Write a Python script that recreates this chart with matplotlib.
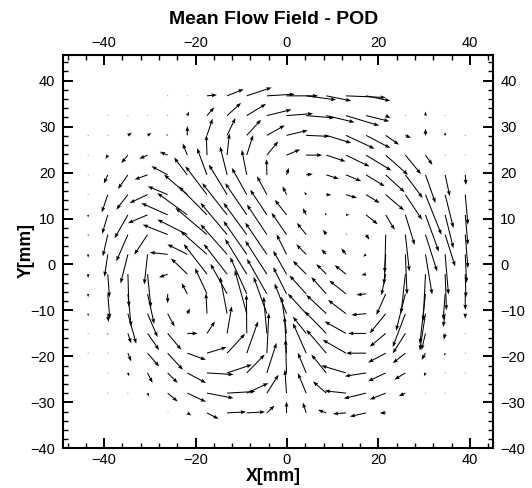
import numpy as np
import matplotlib
matplotlib.use("Agg")
import matplotlib.pyplot as plt
from matplotlib.ticker import MultipleLocator

plt.rcParams['font.family'] = ['Liberation Sans', 'DejaVu Sans']

n = np.nan

# PIV grid (mm)
x_mm = [-43.5, -39.2, -34.8, -30.5, -26.1, -21.8, -17.5, -13.1, -8.8, -4.4,
        -0.1, 4.2, 8.6, 12.9, 17.3, 21.6, 25.9, 30.3, 34.6, 39.0]
y_mm = [36.7, 32.4, 28.1, 23.8, 19.5, 15.2, 10.8, 6.5, 2.2, -2.1,
        -6.4, -10.7, -15.0, -19.3, -23.6, -28.0, -32.3]

# mean velocity components, one row per y_mm value (top to bottom)
u_rows = [
    [n, n, n, n, 0, 0, 3, 5, 7.5, 8.4, 9.5, 9, 7.5, 12, 7.3, n, n, n, n, n],
    [n, 0, 0, 0, 0, 0.5, 2.2, 4.2, 5.8, 7.4, 8, 8.5, 8.5, 10, 7, 1.4, 0, 0, 0, n],
    [0, 0, 1.2, 1.2, -0.5, 0, 1.7, 2.5, 4.3, 5.4, 6.4, 7, 7.5, 8.6, 7.3, 4, 1.7, 0, 0, 0],
    [0, -0.7, -2, -2.5, -2.4, -1.4, -0.2, 0.7, 1.9, 3.4, 4.1, 4.8, 5.8, 7.1, 7.6, 6.7, 4.7, 2.1, 0, 0],
    [0, -1.2, -3, -3.9, -4.9, -4, -3, -2.1, -1.5, -0.1, 0.7, 2, 3.8, 4.6, 5.6, 5.7, 5.2, 3, 1.4, 0.2],
    [0, -1.8, -3.5, -5.4, -6, -7, -6.5, -5.5, -4.5, -3, -1.2, -0.6, 1.5, 3.3, 4.1, 5.5, 5, 4.8, 2.5, 0.8],
    [0, -1.7, -4, -5.9, -7.9, -9, -8.5, -7.5, -6.5, -5, -3.5, -1, -0.5, 1, 3.5, 2.7, 2.8, 4, 2.5, 0.8],
    [0, -1.5, -3.5, -4, -7.5, -9, -9.5, -8, -7, -6, -4.5, -2.8, -1, 0.3, 1, -0.3, 1.2, 3.5, 3, 0.8],
    [0, -1, -2.2, -1, -5.4, -6, -8, -8, -7, -6.5, -3, -3, -1.5, -1.4, -0.9, -0.5, 0.5, 2, 1, 0.4],
    [0, 0.5, 0.3, 1, -2.6, -4.9, -7, -7, -6.5, -6.5, -4, -4, -3, -3.4, -1.4, -1.3, -1.3, -0.7, 0.4, 0.2],
    [0, 0.6, 1, 2, 0, -1.7, -3.6, -5, -5, -6, -4, -5, -4.5, -5, -2.9, -2.8, -2.8, -1.7, -0.6, 0],
    [0, 0.2, 2.5, 3, 2.1, 0.8, -0.3, -2.1, -3.6, -4, -3.6, -5.5, -6, -5.4, -4.4, -4.8, -3.8, -1.7, -0.6, 0],
    [0, 0, 1, 3.5, 4.1, 3.1, 2.4, 1.4, -0.1, -1, -1.5, -4, -6.5, -6.4, -5.4, -4.8, -3.8, -1.2, -0.4, 0],
    [0, 0, 1, 3.5, 4.6, 5.6, 5.9, 5.4, 3.4, 0.6, -0.6, -4, -6, -7, -6, -5.3, -3.8, -1.2, -0.2, 0],
    [n, 0, 0.4, 1.5, 3, 5.6, 8, 7.5, 5.4, 2.9, -0.3, -2.5, -4.5, -7.4, -6.4, -5.3, -3.3, -0.5, 0, 0],
    [n, 0, 0, 0.5, 3, 5.6, 8, 8.5, 6.5, 3.5, -0.5, -2.5, -4, -6.4, -6.7, -4.8, -2, 0, 0, n],
    [n, n, n, n, 0.3, 1.2, 3.5, 5.7, 5.5, 2.3, 0, -1, -2.5, -3.9, -4.9, -1.8, n, n, n, n],
]
v_rows = [
    [n, n, n, n, 0, 0, 0.3, 2, 2.5, 0.5, 0, -1.2, -1.5, -0.5, -1.5, n, n, n, n, n],
    [n, 0, 0, 0, 0, 1.2, 2.5, 3.8, 3.5, 1.8, 0.6, -0.7, -2, -3, -1.7, -0.8, 0, 1.2, 0, n],
    [0, 0, 0.8, 0.7, 0.3, 2.8, 5, 5.2, 4.7, 3, 1.5, -0.3, -2.3, -4, -3.8, -2.8, -0.8, 2, 1, 0],
    [0, -1.2, -2.4, -1.1, 1, 3.5, 6, 6.5, 6, 4.1, 1.7, 0, -1.9, -3.4, -4.6, -5.9, -5.7, -2.9, 0, 0],
    [0, -2.6, -4.2, -1.4, 2.6, 5.2, 8, 8.5, 7.5, 4.7, 2.1, 0.3, -1.2, -1.9, -3.4, -5.2, -6.9, -8.4, -6.4, -3],
    [0, -5.3, -4.5, -2.5, 2.5, 6, 8.5, 9, 8, 5.5, 2.5, 0.8, -0.1, -1, -2.5, -4.7, -7.5, -12, -10, -9],
    [-0.8, -5.7, -7, -2.5, 3.5, 6.5, 8.5, 9.5, 9.5, 7.5, 4.5, 2, 0.6, 0, -2.8, -4.5, -9, -11, -10, -9],
    [-0.5, -6.5, -8, -6, 3, 4.5, 8, 9.5, 9.5, 9, 6.5, 3.5, 1.5, 0.3, -1.5, -11.5, -11, -11, -9.5, -10],
    [-1, -6.7, -8.7, -9, 0.6, 3, 7, 9, 10, 9.5, 6, 3, 1.5, 1.8, -0.7, -9, -12, -12, -12, -8.5],
    [-1.2, -7, -9.8, -10, -1, 4.7, 9, 9, 10.5, 10, 7, 4, 3, 2.7, -0.3, -6.3, -11.8, -14, -10.8, -7],
    [-1, -7.5, -9.8, -9, -2.8, 3.2, 7.7, 9, 11, 10.5, 8, 5.5, 5, 4, -0.3, -6.3, -11, -15, -7.8, -4.8],
    [-0.8, -2.5, -9, -7, -3.9, 1.6, 6.1, 11, 13, 11, 9, 6, 5.6, 4.1, -0.4, -5.9, -10, -11, -4, -1.5],
    [0, -0.5, -3, -5, -4.9, 0, 3.6, 8.1, 11.6, 11, 11, 5, 6.6, 3.6, 0, -4, -6, -5, -1.9, 0],
    [0, 0, -2.5, -4, -5, -2, 1.8, 5.8, 9.5, 12, 11, 9, 7, 4, 0, -2.8, -3, -2, -0.8, 0],
    [n, 0, -1, -3, -3, -3, -0.5, 2.5, 5.5, 9, 10, 6, 5.5, 2.2, -1, -2.5, -2, -1, 0, 0],
    [n, 0, 0, -1, -2.5, -2.6, -1.5, 0.5, 3, 5.5, 7, 6, 3.5, 0.7, -1.6, -1.9, -0.9, 0, 0, n],
    [n, n, n, n, 0, -0.8, -1.8, 0.3, 0.3, 2.2, 3.4, 3.1, 0.9, -0.3, -1.1, 0, n, n, n, n],
]

X, Y = np.meshgrid(x_mm, y_mm)
U = np.array(u_rows, dtype=float)
V = np.array(v_rows, dtype=float)
ok = ~np.isnan(U)

fig = plt.figure(figsize=(5.32, 4.88), dpi=100)
ax = fig.add_axes([0.1184, 0.0814, 0.8077, 0.806])

ax.quiver(X[ok], Y[ok], U[ok], V[ok], angles='xy', scale_units='xy', scale=1.374,
          pivot='tail', color='black', width=0.0024, headwidth=3.8,
          headlength=5.2, headaxislength=4.6, minlength=0.8)

ax.set_xlim(-49, 45)
ax.set_ylim(-40, 45.6)

ax.xaxis.set_major_locator(MultipleLocator(20))
ax.xaxis.set_minor_locator(MultipleLocator(4))
ax.yaxis.set_major_locator(MultipleLocator(10))
ax.yaxis.set_minor_locator(MultipleLocator(2))

ax.tick_params(which='both', direction='in', labelsize=10.5,
               top=True, right=True, labeltop=True, labelright=True)
ax.tick_params(which='major', length=7, width=1.4)
ax.tick_params(which='minor', length=3.6, width=1)
ax.tick_params(axis='x', pad=3.5)
ax.tick_params(axis='y', pad=5.5)

for s in ax.spines.values():
    s.set_linewidth(1.5)

ax.set_xlabel('X[mm]', fontsize=12.7, fontweight='bold', va='center')
ax.set_ylabel('Y[mm]', fontsize=12.7, fontweight='bold', va='center')
ax.xaxis.set_label_coords(0.49, -0.071)
ax.yaxis.set_label_coords(-0.085, 0.504)

fig.text(0.515, 0.961, 'Mean Flow Field - POD', ha='center', va='center',
         fontsize=14, fontweight='bold')

fig.savefig('out.png', dpi=100)
